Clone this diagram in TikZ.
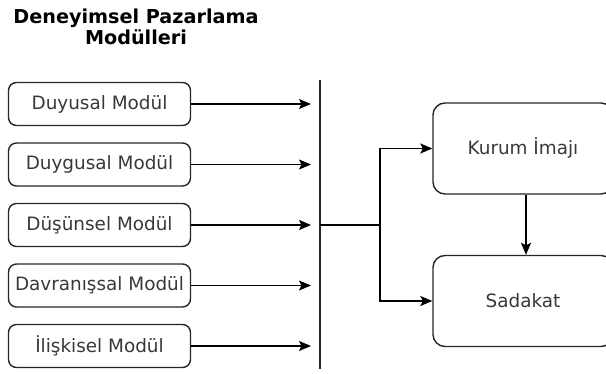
\documentclass[tikz,border=0pt]{standalone}
\usepackage{fontspec}
\setmainfont{DejaVu Sans}
\usetikzlibrary{arrows.meta}

\tikzset{
  modbox/.style={draw=black!85,line width=1.4pt,rounded corners=8pt,minimum width=182pt,minimum height=43pt,inner sep=0pt,text=black!78,font=\fontsize{18.4}{21}\selectfont},
  outbox/.style={draw=black!85,line width=1.4pt,rounded corners=12pt,minimum width=180pt,minimum height=91pt,inner sep=0pt,text=black!78,font=\fontsize{18.4}{21}\selectfont},
  link/.style={line width=1.4pt,-{Stealth[length=12pt,width=10pt,inset=2.5pt]}}
}

\begin{document}
\begin{tikzpicture}[x=1pt,y=1pt,yscale=-1,xscale=1]
\useasboundingbox (0,0) rectangle (606,374);
\clip (0,0) rectangle (606,374);

% Title
\node (title) at (136,27) [align=center,inner sep=0pt,font=\fontsize{19.2}{20.5}\selectfont\bfseries] {Deneyimsel Pazarlama\\Modülleri};

% Module boxes
\node (duyusal) at (99.5,104) [modbox] {Duyusal Modül};
\node (duygusal) at (99.5,164.5) [modbox] {Duygusal Modül};
\node (dusunsel) at (99.5,225) [modbox] {Düşünsel Modül};
\node (davranis) at (99.5,285.5) [modbox] {Davranışsal Modül};
\node (iliskisel) at (99.5,346) [modbox] {İlişkisel Modül};

% Collecting bar
\coordinate (bartop) at (320,80);
\coordinate (barbot) at (320,369);
\draw [line width=2.6pt,black!85] (bartop) -- (barbot);

% Module arrows ending at the bar
\foreach \m in {duyusal,duygusal,dusunsel,davranis,iliskisel}
  \draw [link] (\m.east) -- ([xshift=-9pt]\m.east -| bartop);

% Outcome boxes
\node (imaj) at (523,148.5) [outbox] {Kurum İmajı};
\node (sadakat) at (523,301) [outbox] {Sadakat};

% Branch from the bar
\coordinate (split) at (380,225);
\draw [line width=1.4pt] (dusunsel.east -| bartop) -- (split);
\draw [link] (split) |- (imaj.west);
\draw [link] (split) |- (sadakat.west);
\draw [link] ([xshift=3pt]imaj.south) -- ([xshift=3pt]sadakat.north);
\end{tikzpicture}
\end{document}
